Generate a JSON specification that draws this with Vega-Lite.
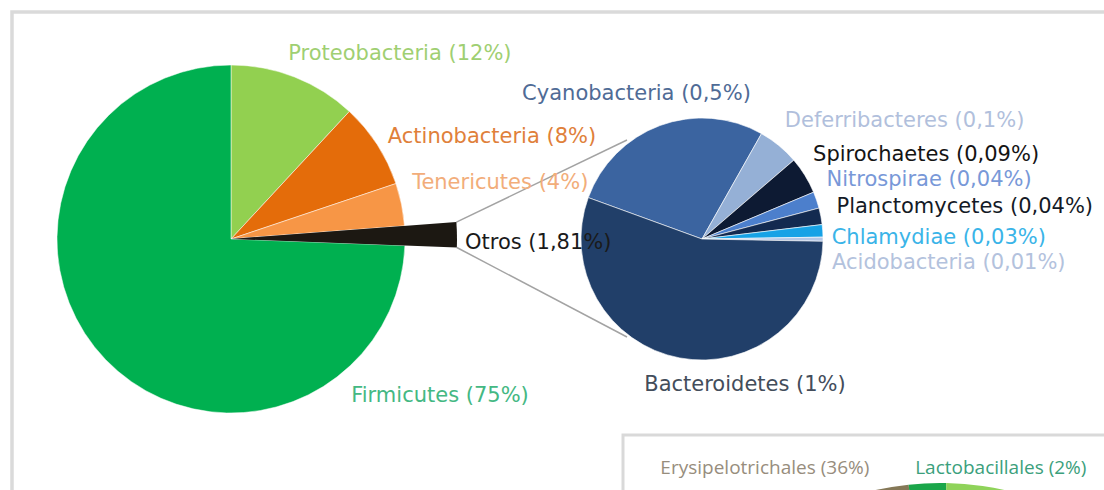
{
  "$schema": "https://vega.github.io/schema/vega-lite/v6.json",
  "width": 1096,
  "height": 482,
  "autosize": "none",
  "padding": {"left": 12, "top": 12, "right": -4, "bottom": -4},
  "background": "#ffffff",
  "config": {
    "view": {"stroke": "#dadada", "strokeWidth": 3.5},
    "text": {"font": "DejaVu Sans", "fontSize": 21}
  },
  "datasets": {
    "filos": [
      {"grafico": "filos", "filo": "Proteobacteria", "pct": 12},
      {"grafico": "filos", "filo": "Actinobacteria", "pct": 8},
      {"grafico": "filos", "filo": "Tenericutes", "pct": 4},
      {"grafico": "filos", "filo": "Otros", "pct": 1.81},
      {"grafico": "filos", "filo": "Firmicutes", "pct": 75}
    ],
    "otros": [
      {"grafico": "otros", "filo": "Cyanobacteria", "pct": 0.5},
      {"grafico": "otros", "filo": "Deferribacteres", "pct": 0.1},
      {"grafico": "otros", "filo": "Spirochaetes", "pct": 0.09},
      {"grafico": "otros", "filo": "Nitrospirae", "pct": 0.04},
      {"grafico": "otros", "filo": "Planctomycetes", "pct": 0.04},
      {"grafico": "otros", "filo": "Chlamydiae", "pct": 0.03},
      {"grafico": "otros", "filo": "Acidobacteria", "pct": 0.01},
      {"grafico": "otros", "filo": "Bacteroidetes", "pct": 1}
    ],
    "ordenes": [
      {"grafico": "ordenes", "filo": "Erysipelotrichales", "pct": 36},
      {"grafico": "ordenes", "filo": "Lactobacillales", "pct": 2},
      {"grafico": "ordenes", "filo": "Otros órdenes", "pct": 62}
    ]
  },
  "resolve": {"scale": {"theta": "independent", "color": "independent", "x": "independent", "y": "independent"}},
  "layer": [
    {
      "data": {"values": [{}]},
      "mark": {"type": "rule", "color": "#a3a3a3", "strokeWidth": 1.5},
      "encoding": {"x": {"value": 444.4}, "y": {"value": 210.1}, "x2": {"value": 615}, "y2": {"value": 128}}
    },
    {
      "data": {"values": [{}]},
      "mark": {"type": "rule", "color": "#a3a3a3", "strokeWidth": 1.5},
      "encoding": {"x": {"value": 444.8}, "y": {"value": 235.5}, "x2": {"value": 615}, "y2": {"value": 325}}
    },
    {
      "data": {"values": [{}]},
      "mark": {"type": "rect", "fill": "#ffffff", "stroke": "#d9d9d9", "strokeWidth": 3},
      "encoding": {"x": {"value": 611}, "y": {"value": 423}, "x2": {"value": 1130}, "y2": {"value": 530}}
    },
    {
      "data": {"name": "otros"},
      "transform": [
        {"window": [{"op": "row_number", "as": "i"}]},
        {"calculate": "datum.filo + ' (' + replace(format(datum.pct, '~g'), '.', ',') + '%)'", "as": "etiqueta"}
      ],
      "encoding": {
        "x": {"field": "grafico", "type": "nominal", "scale": {"type": "point", "domain": ["filos", "otros"], "range": [219, 690], "padding": 0}, "axis": null},
        "y": {"field": "grafico", "type": "nominal", "scale": {"type": "point", "domain": ["filos", "otros"], "range": [227, 227], "padding": 0}, "axis": null},
        "theta": {"field": "pct", "type": "quantitative", "stack": true, "scale": {"range": [-1.2217, 5.0615]}},
        "order": {"field": "i", "type": "quantitative"}
      },
      "layer": [
        {
          "mark": {"type": "arc", "radius": 121, "stroke": "#ffffff", "strokeWidth": 0.6},
          "encoding": {
            "color": {
              "field": "filo", "type": "nominal", "legend": null,
              "scale": {
                "domain": ["Cyanobacteria", "Deferribacteres", "Spirochaetes", "Nitrospirae", "Planctomycetes", "Chlamydiae", "Acidobacteria", "Bacteroidetes"],
                "range": ["#3b64a0", "#95b0d6", "#0d1a33", "#4c7fcc", "#132a50", "#17a2e6", "#b4c7e7", "#213f69"]
              }
            }
          }
        },
        {
          "mark": {"type": "text", "radius": 140, "align": "center", "baseline": "middle", "dx": -17, "dy": -14, "color": "#4f6b96"},
          "encoding": {"text": {"condition": {"test": "datum.filo === 'Cyanobacteria'", "field": "etiqueta"}, "value": ""}}
        },
        {
          "mark": {"type": "text", "radius": 140, "align": "left", "baseline": "middle", "dx": -6, "dy": -10, "color": "#b1bfdc"},
          "encoding": {"text": {"condition": {"test": "datum.filo === 'Deferribacteres'", "field": "etiqueta"}, "value": ""}}
        },
        {
          "mark": {"type": "text", "radius": 140, "align": "left", "baseline": "middle", "dx": -8, "dy": -10, "color": "#141414"},
          "encoding": {"text": {"condition": {"test": "datum.filo === 'Spirochaetes'", "field": "etiqueta"}, "value": ""}}
        },
        {
          "mark": {"type": "text", "radius": 140, "align": "left", "baseline": "middle", "dx": -8, "dy": -14, "color": "#7898d8"},
          "encoding": {"text": {"condition": {"test": "datum.filo === 'Nitrospirae'", "field": "etiqueta"}, "value": ""}}
        },
        {
          "mark": {"type": "text", "radius": 140, "align": "left", "baseline": "middle", "dx": -3, "dy": -6, "color": "#141a26"},
          "encoding": {"text": {"condition": {"test": "datum.filo === 'Planctomycetes'", "field": "etiqueta"}, "value": ""}}
        },
        {
          "mark": {"type": "text", "radius": 140, "align": "left", "baseline": "middle", "dx": -10, "dy": 8, "color": "#3ab4e8"},
          "encoding": {"text": {"condition": {"test": "datum.filo === 'Chlamydiae'", "field": "etiqueta"}, "value": ""}}
        },
        {
          "mark": {"type": "text", "radius": 140, "align": "left", "baseline": "middle", "dx": -10, "dy": 24, "color": "#b3c2dd"},
          "encoding": {"text": {"condition": {"test": "datum.filo === 'Acidobacteria'", "field": "etiqueta"}, "value": ""}}
        },
        {
          "mark": {"type": "text", "radius": 0, "align": "center", "baseline": "middle", "dx": 43, "dy": 146, "color": "#434d5b"},
          "encoding": {"text": {"condition": {"test": "datum.filo === 'Bacteroidetes'", "field": "etiqueta"}, "value": ""}}
        }
      ]
    },
    {
      "data": {"name": "filos"},
      "transform": [
        {"window": [{"op": "row_number", "as": "i"}]},
        {"calculate": "datum.filo + ' (' + replace(format(datum.pct, '~g'), '.', ',') + '%)'", "as": "etiqueta"}
      ],
      "encoding": {
        "x": {"field": "grafico", "type": "nominal", "scale": {"type": "point", "domain": ["filos", "otros"], "range": [219, 690], "padding": 0}, "axis": null},
        "y": {"field": "grafico", "type": "nominal", "scale": {"type": "point", "domain": ["filos", "otros"], "range": [227, 227], "padding": 0}, "axis": null},
        "theta": {"field": "pct", "type": "quantitative", "stack": true},
        "order": {"field": "i", "type": "quantitative"}
      },
      "layer": [
        {
          "mark": {"type": "arc", "radius": 174, "stroke": "#ffffff", "strokeWidth": 0.5},
          "encoding": {
            "color": {
              "field": "filo", "type": "nominal", "legend": null,
              "scale": {
                "domain": ["Proteobacteria", "Actinobacteria", "Tenericutes", "Otros", "Firmicutes"],
                "range": ["#92d050", "#e46c0a", "#f79646", "#1c1812", "#00b050"]
              }
            }
          }
        },
        {
          "mark": {"type": "arc", "radius": 226, "color": "#1c1812"},
          "encoding": {"opacity": {"condition": {"test": "datum.filo === 'Otros'", "value": 1}, "value": 0}}
        },
        {
          "mark": {"type": "text", "radius": 195, "align": "left", "baseline": "middle", "dx": -14, "dy": -3, "color": "#9fcf72"},
          "encoding": {"text": {"condition": {"test": "datum.filo === 'Proteobacteria'", "field": "etiqueta"}, "value": ""}}
        },
        {
          "mark": {"type": "text", "radius": 195, "align": "left", "baseline": "middle", "dx": -7, "dy": 4, "color": "#e0803a"},
          "encoding": {"text": {"condition": {"test": "datum.filo === 'Actinobacteria'", "field": "etiqueta"}, "value": ""}}
        },
        {
          "mark": {"type": "text", "radius": 195, "align": "left", "baseline": "middle", "dx": -10, "dy": -17, "color": "#f2ad7a"},
          "encoding": {"text": {"condition": {"test": "datum.filo === 'Tenericutes'", "field": "etiqueta"}, "value": ""}}
        },
        {
          "mark": {"type": "text", "radius": 232, "align": "left", "baseline": "middle", "dx": 2, "dy": 8, "color": "#1a1a1a"},
          "encoding": {"text": {"condition": {"test": "datum.filo === 'Otros'", "field": "etiqueta"}, "value": ""}}
        },
        {
          "mark": {"type": "text", "radius": 0, "align": "center", "baseline": "middle", "dx": 209, "dy": 157, "color": "#44b883"},
          "encoding": {"text": {"condition": {"test": "datum.filo === 'Firmicutes'", "field": "etiqueta"}, "value": ""}}
        }
      ]
    },
    {
      "data": {"name": "ordenes"},
      "transform": [
        {"window": [{"op": "row_number", "as": "i"}]},
        {"calculate": "datum.filo + ' (' + replace(format(datum.pct, '~g'), '.', ',') + '%)'", "as": "etiqueta"}
      ],
      "encoding": {
        "x": {"field": "grafico", "type": "nominal", "scale": {"type": "point", "domain": ["ordenes"], "range": [928, 928], "padding": 0}, "axis": null},
        "y": {"field": "grafico", "type": "nominal", "scale": {"type": "point", "domain": ["ordenes"], "range": [771, 771], "padding": 0}, "axis": null},
        "theta": {"field": "pct", "type": "quantitative", "stack": true, "scale": {"range": [-2.3667, 3.9165]}},
        "order": {"field": "i", "type": "quantitative"}
      },
      "layer": [
        {
          "mark": {"type": "arc", "radius": 300},
          "encoding": {
            "color": {
              "field": "filo", "type": "nominal", "legend": null,
              "scale": {
                "domain": ["Erysipelotrichales", "Lactobacillales", "Otros órdenes"],
                "range": ["#857857", "#1aa64a", "#8fd35a"]
              }
            }
          }
        },
        {
          "mark": {"type": "text", "radius": 330, "align": "left", "baseline": "middle", "dx": 32, "dy": -206, "font": "Open Sans", "fontSize": 19, "color": "#978d7d"},
          "encoding": {"text": {"condition": {"test": "datum.filo === 'Erysipelotrichales'", "field": "etiqueta"}, "value": ""}}
        },
        {
          "mark": {"type": "text", "radius": 330, "align": "left", "baseline": "middle", "dx": -11, "dy": 15, "font": "Open Sans", "fontSize": 19, "color": "#3ba07c"},
          "encoding": {"text": {"condition": {"test": "datum.filo === 'Lactobacillales'", "field": "etiqueta"}, "value": ""}}
        }
      ]
    }
  ]
}
